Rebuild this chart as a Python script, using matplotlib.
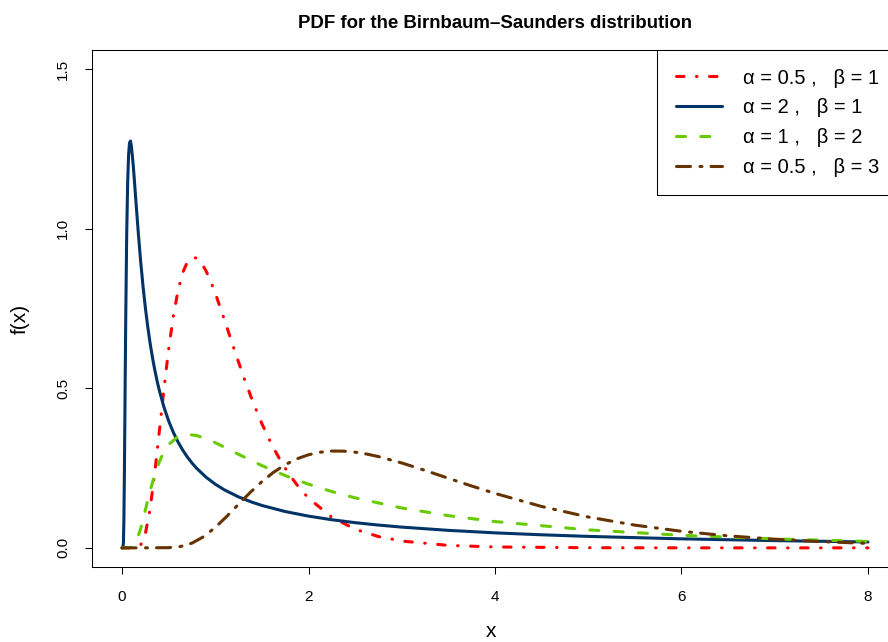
import matplotlib
matplotlib.use("Agg")
import matplotlib.pyplot as plt

plt.rcParams['font.family'] = ['Liberation Sans', 'DejaVu Sans']
plt.rcParams['lines.scale_dashes'] = False

# ---- data ----
x_red = [0, 0.1, 0.15, 0.2, 0.25, 0.3, 0.35, 0.4, 0.45, 0.5, 0.55, 0.6, 0.65, 0.7, 0.75, 0.8,
         0.85, 0.9, 0.95, 1.0, 1.1, 1.2, 1.3, 1.4, 1.5, 1.6, 1.7, 1.8, 1.9, 2.0, 2.25, 2.5,
         2.75, 3.0, 3.5, 4.0, 5.0, 6.0, 7.0, 8.0]
y_red = [0, 0.0000, 0.0005, 0.0089, 0.0443, 0.1203, 0.2326, 0.3649, 0.4996, 0.6227, 0.7259,
         0.8056, 0.8617, 0.8955, 0.9099, 0.9081, 0.8932, 0.8683, 0.8358, 0.7979, 0.7130,
         0.6246, 0.5391, 0.4599, 0.3890, 0.3268, 0.2730, 0.2272, 0.1883, 0.1557, 0.0958,
         0.0584, 0.0354, 0.0213, 0.0077, 0.0028, 0.0004, 0.0000, 0.0000, 0.0000]

x_blue = [0, 0.01, 0.015, 0.02, 0.025, 0.03, 0.035, 0.04, 0.05, 0.06, 0.07, 0.08, 0.09, 0.1,
          0.12, 0.135, 0.15, 0.175, 0.2, 0.225, 0.25, 0.275, 0.3, 0.325, 0.35, 0.375, 0.4,
          0.45, 0.5, 0.55, 0.6, 0.65, 0.7, 0.75, 0.8, 0.9, 1.0, 1.1, 1.25, 1.4, 1.5, 1.75,
          2.0, 2.25, 2.5, 2.75, 3.0, 3.5, 4.0, 4.5, 5.0, 6.0, 7.0, 8.0]
y_blue = [0, 0.0005, 0.0170, 0.0889, 0.2232, 0.3920, 0.5667, 0.7278, 0.9812, 1.1415, 1.2298,
          1.2686, 1.2748, 1.2598, 1.1990, 1.1414, 1.0813, 0.9844, 0.8969, 0.8199, 0.7528,
          0.6943, 0.6433, 0.5986, 0.5591, 0.5243, 0.4932, 0.4405, 0.3975, 0.3620, 0.3321,
          0.3067, 0.2849, 0.2659, 0.2493, 0.2216, 0.1995, 0.1813, 0.1596, 0.1424, 0.1329,
          0.1138, 0.0994, 0.0881, 0.0789, 0.0714, 0.0650, 0.0548, 0.0470, 0.0409, 0.0359,
          0.0282, 0.0227, 0.0184]

x_green = [0, 0.1, 0.15, 0.2, 0.25, 0.3, 0.35, 0.4, 0.45, 0.5, 0.6, 0.7, 0.8, 0.9, 1.0, 1.25,
           1.5, 1.75, 2.0, 2.25, 2.5, 3.0, 3.5, 4.0, 5.0, 6.0, 7.0, 8.0]
y_green = [0, 0.0011, 0.0174, 0.0604, 0.1188, 0.1776, 0.2290, 0.2701, 0.3013, 0.3238, 0.3487,
           0.3556, 0.3519, 0.3423, 0.3296, 0.2931, 0.2577, 0.2264, 0.1995, 0.1764, 0.1566,
           0.1249, 0.1009, 0.0824, 0.0563, 0.0394, 0.0281, 0.0202]

x_brown = [0, 0.25, 0.5, 0.625, 0.75, 0.875, 1.0, 1.125, 1.25, 1.375, 1.5, 1.625, 1.75, 1.875,
           2.0, 2.125, 2.25, 2.375, 2.5, 2.625, 2.75, 3.0, 3.25, 3.5, 3.75, 4.0, 4.5, 5.0,
           5.5, 6.0, 6.5, 7.0, 7.5, 8.0]
y_brown = [0, 0.0000, 0.0006, 0.0041, 0.0148, 0.0349, 0.0640, 0.0991, 0.1368, 0.1737, 0.2076,
           0.2368, 0.2606, 0.2789, 0.2917, 0.2997, 0.3033, 0.3031, 0.2998, 0.2939, 0.2860,
           0.2660, 0.2426, 0.2180, 0.1937, 0.1706, 0.1296, 0.0967, 0.0712, 0.0519, 0.0376,
           0.0271, 0.0195, 0.0139]

labels = ["α = 0.5 ,   β = 1", "α = 2 ,   β = 1", "α = 1 ,   β = 2", "α = 0.5 ,   β = 3"]
x_ticks = [0, 2, 4, 6, 8]
y_ticks = [0.0, 0.5, 1.0, 1.5]
y_tick_labels = ["0.0", "0.5", "1.0", "1.5"]

# ---- figure ----
fig = plt.figure(figsize=(8.88, 6.42), dpi=100)
ax = fig.add_axes([92.2 / 888, 75 / 642, 805.6 / 888, 517 / 642])

lw = 2.2
ax.plot(x_red, y_red, color='#FF0000', lw=lw, ls=(0, (5.4, 9.0, 0.36, 9.0)),
        dash_capstyle='round', solid_joinstyle='round', label=labels[0])
ax.plot(x_blue, y_blue, color='#003366', lw=lw, ls='-', solid_capstyle='round',
        solid_joinstyle='round', label=labels[1])
ax.plot(x_green, y_green, color='#66CC00', lw=lw, ls=(0, (6.5, 11.0)),
        dash_capstyle='round', label=labels[2])
ax.plot(x_brown, y_brown, color='#663300', lw=lw, ls=(0, (10.1, 6.8, 1.44, 6.5)),
        dash_capstyle='round', label=labels[3])

ax.set_xlim(-0.32, 8.32)
ax.set_ylim(-0.06, 1.56)
ax.set_xticks(x_ticks)
ax.set_xticklabels([str(t) for t in x_ticks])
ax.set_yticks(y_ticks)
ax.set_yticklabels(y_tick_labels, rotation=90, va='center')

for s in ax.spines.values():
    s.set_linewidth(0.75)
    s.set_color('black')
ax.tick_params(axis='both', direction='out', length=5, width=0.75, color='black',
               labelsize=11, labelcolor='black')
ax.tick_params(axis='x', pad=11.5)
ax.tick_params(axis='y', pad=11)

ax.set_xlabel('x', fontsize=15)
ax.set_ylabel('f(x)', fontsize=15)
ax.xaxis.set_label_coords(0.495, -0.1257)
ax.xaxis.label.set_va('center')
ax.yaxis.set_label_coords(-0.0894, 0.48)
ax.yaxis.label.set_va('center')

ax.set_title('PDF for the Birnbaum\u2013Saunders distribution', fontsize=13.4,
             fontweight='bold', y=1.0431, pad=0)

leg = ax.legend(loc='upper right', bbox_to_anchor=(1.0, 1.0), borderaxespad=0,
                fontsize=14.5, handlelength=2.3, handletextpad=1.05, borderpad=0.92,
                labelspacing=0.53, fancybox=False, framealpha=1, edgecolor='black')
leg.get_frame().set_linewidth(0.75)

fig.savefig('out.png', dpi=100)
